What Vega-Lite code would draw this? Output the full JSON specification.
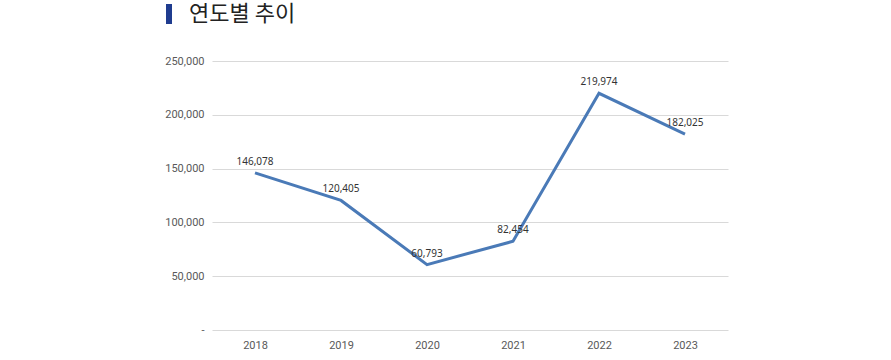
{
  "$schema": "https://vega.github.io/schema/vega-lite/v6.json",
  "autosize": {"type": "none"},
  "width": 516,
  "height": 269,
  "padding": {"left": 212, "top": 61, "right": 163, "bottom": 30},
  "background": "white",
  "data": {
    "values": [
      {"year": "2018", "value": 146078},
      {"year": "2019", "value": 120405},
      {"year": "2020", "value": 60793},
      {"year": "2021", "value": 82454},
      {"year": "2022", "value": 219974},
      {"year": "2023", "value": 182025}
    ]
  },
  "encoding": {
    "x": {
      "field": "year",
      "type": "ordinal",
      "scale": {"type": "point", "padding": 0.5},
      "axis": {
        "title": null,
        "labelAngle": 0,
        "domain": false,
        "ticks": false,
        "labelPadding": 9,
        "labelFont": "Roboto",
        "labelFontSize": 11,
        "labelColor": "#595959"
      }
    },
    "y": {
      "field": "value",
      "type": "quantitative",
      "scale": {"domain": [0, 250000], "nice": false},
      "axis": {
        "title": null,
        "values": [0, 50000, 100000, 150000, 200000, 250000],
        "format": ",.0f",
        "labelExpr": "datum.value === 0 ? '-' : datum.label",
        "domain": false,
        "ticks": false,
        "labelPadding": 8,
        "labelFont": "Roboto",
        "labelFontSize": 11,
        "labelColor": "#595959",
        "gridColor": "#d9d9d9",
        "gridWidth": 1
      }
    }
  },
  "layer": [
    {
      "mark": {"type": "line", "strokeWidth": 3},
      "encoding": {
        "color": {
          "datum": "연도별 추이",
          "type": "nominal",
          "scale": {"range": ["#4a7ab7"]},
          "legend": {
            "title": null,
            "orient": "none",
            "legendX": -54,
            "legendY": -58,
            "padding": 0,
            "symbolType": "M-0.3,-1H0.3V1H-0.3Z",
            "symbolSize": 400,
            "symbolOffset": 0,
            "labelOffset": 9,
            "labelFont": "Noto Sans CJK KR",
            "labelFontSize": 22,
            "labelColor": "#222222",
            "labelLimit": 300,
            "encode": {
              "symbols": {
                "update": {
                  "fill": {"value": "#1f3c8f"},
                  "stroke": {"value": "#1f3c8f"},
                  "strokeWidth": {"value": 0},
                  "opacity": {"value": 1},
                  "size": {"value": 400}
                }
              }
            }
          }
        }
      }
    },
    {
      "mark": {"type": "text", "dy": -11, "font": "Noto Sans", "fontSize": 10, "color": "#333333"},
      "encoding": {
        "text": {"field": "value", "type": "quantitative", "format": ","}
      }
    }
  ],
  "config": {"view": {"stroke": null}}
}
